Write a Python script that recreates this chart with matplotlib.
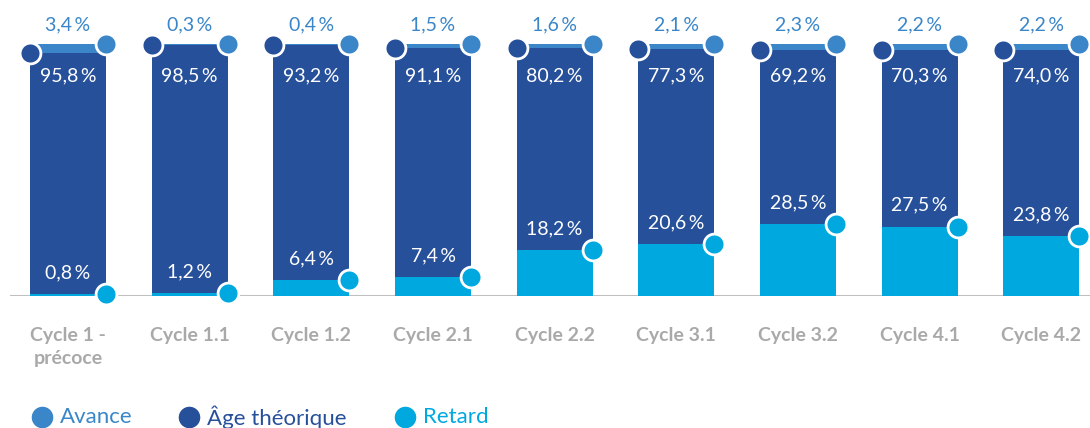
import matplotlib.pyplot as plt
import numpy as np
from matplotlib.lines import Line2D

categories = ['Cycle 1 -\nprécoce', 'Cycle 1.1', 'Cycle 1.2', 'Cycle 2.1', 'Cycle 2.2',
              'Cycle 3.1', 'Cycle 3.2', 'Cycle 4.1', 'Cycle 4.2']
retard = np.array([0.8, 1.2, 6.4, 7.4, 18.2, 20.6, 28.5, 27.5, 23.8])
age = np.array([95.8, 98.5, 93.2, 91.1, 80.2, 77.3, 69.2, 70.3, 74.0])
avance = np.array([3.4, 0.3, 0.4, 1.5, 1.6, 2.1, 2.3, 2.2, 2.2])
legend_labels = ['Avance', 'Âge théorique', 'Retard']

c_av = '#3a86c8'
c_age = '#27509b'
c_ret = '#00a8e0'
grey = '#a9a9a9'

plt.rcParams['font.family'] = ['Lato', 'DejaVu Sans']

def pct(v):
    return f'{v:.1f}'.replace('.', ',') + '\u2009%'

fig = plt.figure(figsize=(10.9, 4.28), dpi=100)
ax = fig.add_axes([10 / 1090, 0.3084, 1080 / 1090, 0.6916])

x = np.arange(len(categories))
w = 0.625
ax.bar(x, retard, w, color=c_ret, zorder=2)
ax.bar(x, age, w, bottom=retard, color=c_age, zorder=2)
ax.bar(x, avance, w, bottom=retard + age, color=c_av, zorder=2)

# dots at the corners
top = retard + age + avance
ax.plot(x - w / 2, retard + age, 'o', ms=15, color=c_age, mec='white', mew=2, zorder=4, clip_on=False)
ax.plot(x + w / 2, top, 'o', ms=15, color=c_av, mec='white', mew=2, zorder=4, clip_on=False)
ax.plot(x + w / 2, retard, 'o', ms=15, color=c_ret, mec='white', mew=2, zorder=4, clip_on=False)

for i in range(len(x)):
    ax.text(x[i], top[i] + 7.8, pct(avance[i]), ha='center', va='center',
            fontsize=14, color=c_av)
    ax.text(x[i], top[i] - 12.5, pct(age[i]), ha='center', va='center',
            fontsize=14, color='white', zorder=3)
    ax.text(x[i], retard[i] + 8.5, pct(retard[i]), ha='center', va='center',
            fontsize=14, color='white', zorder=3)

ax.axhline(0, color='#c0c0c0', lw=1.5, zorder=1)
ax.set_xlim(-0.477, 8.40)
ax.set_ylim(0, 117.5)
ax.set_yticks([])
ax.set_xticks(x)
ax.set_xticklabels(categories, fontsize=14, fontweight='bold', color=grey, linespacing=1.45)
ax.tick_params(axis='x', length=0, pad=22)
for s in ax.spines.values():
    s.set_visible(False)

# legend drawn by hand in pixel positions
leg_colors = [c_av, c_age, c_ret]
leg_x = [42, 189, 405]
leg_y = 1 - 417 / 428
for lx, lab, col in zip(leg_x, legend_labels, leg_colors):
    fig.add_artist(Line2D([lx / 1090], [leg_y], marker='o', ms=14.5, color=col,
                          ls='', transform=fig.transFigure))
    fig.text((lx + 18) / 1090, leg_y, lab, color=col, fontsize=16, va='center', ha='left')

fig.savefig('out.png', dpi=100)
